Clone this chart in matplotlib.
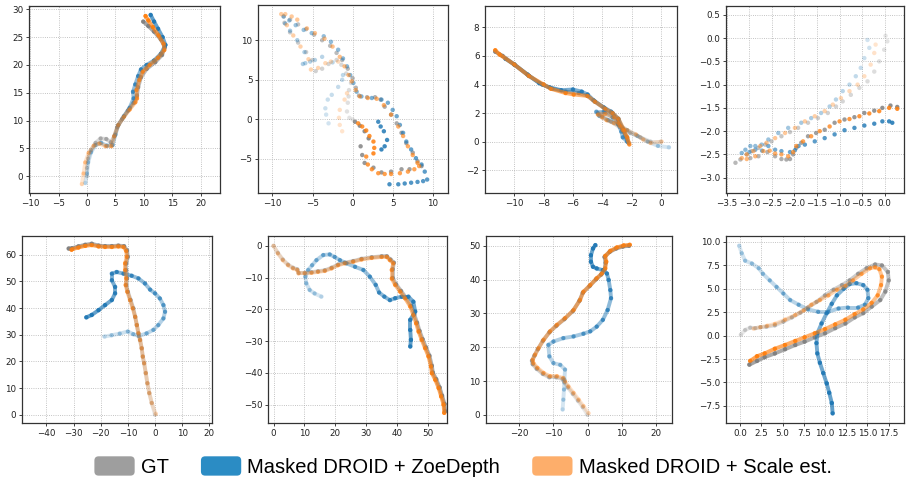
import numpy as np
import matplotlib
matplotlib.use("Agg")
import matplotlib.pyplot as plt
from matplotlib.colors import to_rgba
from matplotlib.collections import LineCollection
from matplotlib.patches import Patch, FancyBboxPatch
from matplotlib.legend_handler import HandlerPatch

# ---------------- data ----------------
series_names = ["GT", "Masked DROID + ZoeDepth", "Masked DROID + Scale est."]

# Panel 1
p1_gt = [(0,0),(0,1.5),(0.2,3.2),(0.7,4.7),(1.5,6.0),(2.4,6.8),(3.4,6.7),(4.2,6.1),(4.8,7.2),(5.3,8.8),
         (6.2,10.3),(7.2,11.8),(8.2,13.2),(8.8,14.5),(9.0,16.0),(9.5,17.8),(10.5,19.3),(12.0,20.5),(13.2,21.8),
         (13.7,23.2),(13.0,24.6),(11.8,26.0),(10.8,27.0),(9.9,27.8)]
p1_zoe = [(-0.3,-1.2),(0,0.5),(0.2,2.5),(0.7,4.3),(1.5,5.6),(2.5,6.0),(3.5,5.5),(4.5,5.6),(5.0,7.5),(5.5,9.2),
          (6.5,10.8),(7.5,12.3),(8.2,14.0),(8.1,15.2),(8.5,16.5),(9.0,18.0),(9.5,19.2),(10.5,20.0),(11.8,20.8),
          (13.0,22.0),(13.8,23.6),(13.3,25.0),(12.5,26.5),(11.8,27.8),(11.2,29.0)]
p1_scl = [(-0.9,-1.4),(-0.6,0.5),(-0.3,2.5),(0.3,4.2),(1.2,5.5),(2.2,5.9),(3.3,5.4),(4.3,5.4),(4.8,7.2),(5.5,9.2),
          (6.5,10.7),(7.5,12.0),(8.5,13.3),(8.8,14.0),(8.7,15.5),(9.2,17.3),(9.8,18.8),(11.0,20.0),(12.5,21.3),
          (13.6,22.7),(13.5,23.8),(12.6,25.3),(11.6,26.8),(10.8,28.0),(10.3,28.8)]

# Panel 2
p2_gt = [(0,0),(-0.4,0.2),(-0.7,1.0),(-0.6,2.1),(-0.5,2.9),(-0.45,3.7),(-0.2,4.6),(-0.8,5.8),(-1.4,6.9),(-2.0,7.5),
         (-3.0,7.0),(-3.8,6.4),(-4.6,6.1),(-5.0,7.5),(-5.8,8.5),(-6.8,9.7),(-7.8,11.0),(-8.5,12.2),(-8.6,13.0),
         (-7.8,12.6),(-6.8,12.0),(-5.8,11.4),(-4.8,10.7),(-3.8,10.0),(-2.8,9.3),(-2.0,8.4),(-1.3,7.5),(-0.6,6.4),
         (0.0,5.2),(0.4,4.0),(0.8,3.0),(1.8,2.8),(2.8,2.8),(3.5,2.5),(4.0,1.6),(4.8,0.6),(5.5,-0.5),(6.1,-1.7),
         (6.7,-3.0),(7.5,-4.2),(8.1,-5.3),(8.6,-5.9),(7.1,-6.3),(6.1,-6.3),(4.8,-6.6),(3.6,-6.7),(2.6,-6.1),
         (1.5,-5.5),(1.2,-4.5),(1.0,-3.4),(0.3,-0.3),(0.9,-0.8),(1.5,-1.5),(2.0,-2.4)]
p2_zoe = [(-3.0,-0.5),(-3.3,0.6),(-3.4,1.4),(-3.1,2.5),(-2.6,3.1),(-1.8,4.1),(-1.3,5.0),(-1.2,5.6),(-2.5,7.2),
          (-3.8,7.9),(-4.7,7.5),(-5.3,7.3),(-5.9,7.1),(-6.2,7.0),(-6.0,8.5),(-6.9,10.0),(-7.8,11.2),(-8.4,12.1),
          (-8.6,13.0),(-7.9,12.5),(-7.1,11.9),(-6.1,11.3),(-5.1,10.9),(-3.6,10.5),(-2.7,9.8),(-1.8,8.8),(-1.2,7.7),
          (-0.7,6.7),(-0.3,5.6),(0.1,4.6),(0.5,3.5),(1.1,2.9),(2.4,2.7),(3.6,2.5),(4.4,2.1),(5.0,1.2),(5.5,0.4),
          (5.9,-0.7),(6.3,-1.7),(6.7,-2.8),(7.3,-3.8),(7.9,-4.9),(8.6,-5.7),(9.0,-6.6),(9.3,-7.6),(8.8,-7.8),
          (8.1,-7.9),(7.3,-8.0),(6.5,-8.1),(5.7,-8.2),(4.6,-8.2),(3.2,-0.3),(3.5,-0.9),(3.9,-1.5),(4.3,-2.6),
          (4.0,-3.4),(3.6,-3.8)]
p2_scl = [(-1.3,-1.5),(-1.6,-0.7),(-1.7,0.2),(-1.6,1.2),(-1.0,2.5),(-0.7,3.3),(-1.8,7.3),(-2.7,7.3),(-3.4,7.1),
          (-4.3,6.5),(-5.2,6.3),(-5.5,7.6),(-6.5,9.2),(-7.4,10.6),(-8.2,11.9),(-8.9,13.3),(-8.4,13.3),(-7.6,13.0),
          (-6.9,12.6),(-5.7,11.5),(-4.7,10.9),(-3.5,10.2),(-2.5,9.2),(-1.6,7.9),(-1.0,6.7),(-0.5,5.6),(-0.1,4.8),
          (0.4,3.7),(0.9,2.9),(1.9,2.7),(3.0,2.6),(3.9,1.8),(4.8,0.6),(5.7,-0.9),(6.3,-2.1),(6.9,-3.4),(7.5,-4.5),
          (8.1,-5.5),(8.3,-5.9),(7.7,-6.3),(6.9,-6.6),(5.9,-6.8),(4.8,-6.9),(4.0,-6.9),(3.2,-6.8),(2.4,-6.3),
          (1.9,-5.7),(1.7,-4.7),(0.7,-0.5),(1.2,-0.9),(1.7,-1.4),(2.1,-2.1),(2.6,-2.8),(2.7,-3.6),(2.6,-4.3)]

# Panel 3
p3_gt = [(0.0,0.0),(-0.7,0.0),(-1.4,0.3),(-2.1,0.6),(-2.8,1.0),(-3.4,1.4),(-4.0,1.8),(-4.3,2.0),(-3.8,2.1),
         (-3.2,1.8),(-2.9,1.3),(-2.6,0.8),(-2.3,0.3),(-2.2,-0.1),(-2.5,0.7),(-2.9,1.5),(-3.3,2.0),(-3.8,2.3),
         (-4.5,2.8),(-5.0,3.2),(-5.6,3.4),(-6.5,3.5),(-7.4,3.7),(-8.1,4.0),(-9.0,4.6),(-10.0,5.4),(-10.8,6.0),(-11.3,6.3)]
p3_zoe = [(0.55,-0.4),(-0.2,-0.3),(-0.9,0.0),(-1.6,0.4),(-2.3,0.8),(-2.9,1.2),(-3.6,1.5),(-4.2,1.8),(-4.4,2.1),
          (-3.9,2.1),(-3.3,1.7),(-2.9,1.2),(-2.7,0.7),(-2.6,0.3),(-2.3,0.0),(-2.6,0.9),(-2.9,1.6),(-3.4,2.1),
          (-3.9,2.4),(-4.6,2.9),(-5.0,3.3),(-5.4,3.5),(-6.0,3.65),(-6.8,3.6),(-7.6,3.8),(-8.3,4.1),(-9.1,4.7),
          (-10.0,5.4),(-10.6,5.8)]
p3_scl = [(0.05,0.0),(-0.7,-0.1),(-1.2,0.15),(-1.7,0.5),(-2.3,0.8),(-2.8,1.1),(-3.2,1.3),(-3.7,1.5),(-4.0,1.7),
          (-4.3,1.9),(-3.8,1.95),(-3.2,1.7),(-2.9,1.3),(-2.6,0.8),(-2.3,0.3),(-2.15,-0.2),(-2.5,0.8),(-2.9,1.6),
          (-3.3,2.0),(-3.8,2.3),(-4.5,2.8),(-5.0,3.2),(-5.95,3.3),(-6.5,3.4),(-7.5,3.7),(-8.0,4.0),(-9.0,4.6),
          (-10.0,5.4),(-11.0,6.1),(-11.3,6.4)]

# Panel 4
p4_gt = [(0.02,0.05),(0.06,-0.07),(-0.01,-0.25),(-0.12,-0.5),(-0.23,-0.72),(-0.38,-0.93),(-0.56,-1.07),
         (-0.75,-1.22),(-0.93,-1.36),(-1.08,-1.47),(-1.26,-1.61),(-1.48,-1.72),(-1.7,-1.82),(-1.92,-1.93),
         (-2.1,-2.02),(-2.29,-2.11),(-2.51,-2.22),(-2.65,-2.29),(-2.8,-2.36),(-2.95,-2.43),(-3.06,-2.5),
         (-3.2,-2.61),(-3.31,-2.68),(-2.98,-2.58),(-2.8,-2.54),(-2.6,-2.45),(-2.43,-2.54),(-2.29,-2.6),
         (-2.18,-2.61),(-2.1,-2.6),(-2.03,-2.5),(-1.96,-2.36),(-1.85,-2.25),(-1.7,-2.11),(-1.52,-2.04),
         (-1.33,-1.97),(-1.11,-1.82),(-0.89,-1.75),(-0.67,-1.7),(-0.45,-1.61),(-0.23,-1.56),(-0.05,-1.5),
         (0.13,-1.45),(0.28,-1.48)]
p4_zoe = [(-0.38,-0.04),(-0.34,-0.21),(-0.45,-0.43),(-0.53,-0.64),(-0.64,-0.82),(-0.78,-1.0),(-0.93,-1.14),
          (-1.08,-1.32),(-1.22,-1.47),(-1.41,-1.61),(-1.63,-1.72),(-1.85,-1.82),(-2.14,-1.93),(-2.36,-2.04),
          (-2.58,-2.18),(-2.73,-2.29),(-2.87,-2.32),(-2.98,-2.32),(-3.09,-2.4),(-3.17,-2.47),(-3.0,-2.45),
          (-2.87,-2.4),(-2.72,-2.42),(-2.58,-2.32),(-2.43,-2.4),(-2.29,-2.43),(-2.1,-2.45),(-1.99,-2.41),
          (-1.91,-2.32),(-1.77,-2.29),(-1.55,-2.22),(-1.33,-2.15),(-1.11,-2.07),(-0.89,-1.98),(-0.67,-1.93),
          (-0.45,-1.88),(-0.23,-1.84),(-0.05,-1.79),(0.1,-1.79),(0.17,-1.82)]
p4_scl = [(-0.2,-0.14),(-0.23,-0.32),(-0.31,-0.57),(-0.45,-0.82),(-0.6,-1.0),(-0.78,-1.14),(-0.97,-1.29),
          (-1.15,-1.43),(-1.33,-1.57),(-1.55,-1.68),(-1.77,-1.79),(-1.99,-1.93),(-2.21,-2.04),(-2.43,-2.15),
          (-2.62,-2.25),(-2.76,-2.32),(-2.91,-2.43),(-3.06,-2.5),(-3.17,-2.58),(-3.06,-2.6),(-2.87,-2.54),
          (-2.69,-2.43),(-2.55,-2.42),(-2.43,-2.48),(-2.29,-2.5),(-2.14,-2.54),(-2.03,-2.45),(-1.96,-2.32),
          (-1.81,-2.22),(-1.63,-2.11),(-1.44,-2.0),(-1.22,-1.9),(-1.0,-1.79),(-0.78,-1.74),(-0.56,-1.68),
          (-0.34,-1.62),(-0.12,-1.57),(0.1,-1.5),(0.28,-1.52)]

# Panel 5
p5_gt = [(0,0),(-1.2,4.4),(-2.1,8.1),(-2.8,11.8),(-3.4,15.6),(-4.0,19.3),(-4.5,21.8),(-4.9,24.9),(-5.5,28.0),
         (-6.1,30.5),(-6.7,33.6),(-7.3,36.7),(-8.0,39.9),(-9.0,43.0),(-10.0,46.1),(-10.6,48.6),(-10.3,51.1),
         (-10.6,54.2),(-10.6,56.7),(-10.0,59.2),(-10.3,61.6),(-11.4,63.2),(-13.5,63.4),(-15.9,63.2),(-18.4,63.2),
         (-20.8,63.4),(-23.3,64.1),(-25.7,63.7),(-28.2,63.1),(-30.6,62.4),(-31.8,62.3)]
p5_zoe = [(-18.6,29.3),(-16.0,29.8),(-13.0,30.4),(-10.0,31.2),(-8.0,30.2),(-6.0,29.5),(-3.1,30.5),(-0.6,31.8),
          (1.2,33.6),(3.1,36.1),(3.7,38.6),(3.1,41.1),(1.8,43.6),(0,45.5),(-1.8,46.9),(-3.7,49.2),(-6.1,51.1),
          (-8.6,52.1),(-11.6,52.9),(-14.1,53.5),(-15.9,52.9),(-15.9,50.4),(-14.7,47.9),(-14.7,45.5),(-15.9,43.0),
          (-18.4,41.1),(-20.8,39.2),(-23.3,37.4),(-25.3,36.5)]
p5_scl = [(0.3,0.3),(-1.2,4.4),(-2.1,8.1),(-2.8,11.8),(-3.4,15.6),(-4.0,19.3),(-4.5,21.8),(-4.9,24.9),(-5.5,28.0),
          (-6.1,30.5),(-6.7,33.6),(-7.3,36.7),(-8.2,39.9),(-9.2,43.0),(-10.2,46.1),(-10.8,48.6),(-10.6,51.1),
          (-11.0,54.2),(-11.0,56.7),(-10.4,59.2),(-10.6,61.4),(-11.6,62.9),(-13.5,63.1),(-15.9,62.9),(-18.4,62.9),
          (-20.8,63.1),(-23.3,63.6),(-25.7,63.3),(-28.2,62.7),(-30.6,62.0),(-30.8,61.9)]

# Panel 6
p6_gt = [(0,0),(1.4,-2.2),(3.0,-4.3),(4.7,-5.9),(6.3,-6.9),(7.7,-7.4),(8.1,-8.5),(10.1,-8.5),(12.3,-8.3),
         (14.4,-8.0),(16.6,-7.7),(18.8,-6.9),(20.9,-5.9),(23.1,-5.3),(25.8,-4.8),(28.5,-4.1),(31.8,-3.6),
         (35.0,-3.3),(36.7,-3.3),(37.9,-4.3),(39.0,-5.3),(38.6,-7.4),(38.6,-10.1),(39.7,-12.1),(41.3,-14.2),
         (42.9,-16.3),(44.6,-18.9),(45.6,-21.6),(46.5,-24.2),(47.3,-26.8),(48.3,-29.4),(49.4,-32.0),(50.5,-34.6),
         (51.3,-37.8),(51.6,-39.9),(52.7,-42.0),(53.8,-44.6),(54.6,-47.2),(55.4,-49.8),(55.6,-52.1)]
p6_zoe = [(15.5,-16.0),(13.3,-15.0),(11.7,-13.9),(10.6,-11.8),(10.3,-9.7),(11.2,-7.6),(12.5,-6.1),(13.9,-4.5),
          (16.1,-2.9),(18.2,-2.7),(19.8,-3.5),(21.5,-4.5),(23.6,-5.5),(26.4,-6.6),(29.1,-7.6),(31.2,-9.7),
          (33.1,-12.3),(34.2,-14.7),(35.9,-16.0),(37.7,-17.1),(39.4,-16.5),(41.5,-16.0),(43.7,-16.0),(45.3,-17.6),
          (45.9,-20.7),(44.3,-23.3),(44.3,-26.5),(44.5,-29.6),(44.3,-31.7)]
p6_scl = [(0,0),(1.4,-2.4),(3.0,-4.5),(4.7,-6.1),(6.3,-7.1),(7.7,-7.6),(8.1,-8.7),(10.1,-8.7),(12.3,-8.5),
          (14.4,-8.2),(16.6,-7.9),(18.8,-7.1),(20.9,-6.1),(23.1,-5.5),(25.8,-5.0),(28.5,-4.3),(31.8,-3.8),
          (35.0,-3.5),(36.7,-3.5),(37.7,-4.5),(38.8,-5.5),(38.3,-7.6),(38.3,-10.3),(39.4,-12.3),(41.0,-14.4),
          (42.6,-16.5),(44.3,-19.1),(45.3,-21.8),(46.2,-24.4),(47.0,-27.0),(48.0,-29.6),(49.1,-32.2),(50.2,-34.8),
          (51.0,-38.0),(51.3,-40.1),(52.4,-42.2),(53.5,-44.8),(54.3,-47.4),(55.1,-50.0),(55.3,-52.6)]

# Panel 7
p7_gt = [(0,0),(-1.4,2.3),(-2.8,4.2),(-4.3,6.2),(-5.8,8.1),(-6.8,9.6),(-7.3,10.6),(-9.2,11.1),(-11.2,11.1),
         (-13.1,12.1),(-14.9,13.6),(-16.1,15.0),(-16.3,16.0),(-15.6,17.5),(-14.6,19.4),(-13.1,21.9),(-11.2,24.4),
         (-9.2,26.3),(-6.8,28.3),(-4.3,30.7),(-2.4,33.7),(-1.4,36.1),(0.6,38.1),(2.5,40.1),(4.0,41.5),(5.0,43.0),
         (5.3,45.0),(5.0,46.7),(6.5,48.2),(8.4,49.2),(10.4,49.8),(12.2,50.0)]
p7_zoe = [(-7.3,1.6),(-7.1,4.5),(-6.9,7.5),(-6.8,10.4),(-6.6,13.4),(-8.0,14.8),(-10.0,15.3),(-11.2,17.3),
          (-11.5,20.7),(-10.0,21.7),(-7.1,22.7),(-4.1,23.2),(-1.2,24.0),(0.8,24.7),(2.7,26.1),(4.5,28.1),(5.9,31.0),
          (6.9,34.5),(6.7,36.9),(6.2,39.9),(5.7,41.8),(4.5,42.8),(2.7,43.3),(1.6,43.8),(1.0,45.3),(1.0,47.2),
          (1.6,49.2),(2.3,50.2)]
p7_scl = [(0.3,0.5),(-1.2,2.6),(-2.6,4.5),(-4.1,6.5),(-5.6,8.4),(-6.6,9.9),(-7.1,10.9),(-9.0,11.4),(-11.0,11.4),
          (-12.9,12.4),(-14.7,13.9),(-15.9,15.3),(-16.1,16.3),(-15.4,17.8),(-14.4,19.7),(-12.9,22.2),(-11.0,24.7),
          (-9.0,26.6),(-6.6,28.6),(-4.1,31.0),(-2.2,34.0),(-1.2,36.4),(0.8,38.4),(2.7,40.4),(4.2,41.8),(5.2,43.3),
          (5.5,45.3),(5.2,47.0),(6.7,48.5),(8.6,49.5),(10.6,50.1),(12.4,50.3)]

# Panel 8
p8_gt = [(0.1,0.1),(0.6,0.6),(1.2,0.85),(1.8,0.8),(2.4,0.9),(3.1,0.95),(4.1,1.1),(5.1,1.5),(6.1,1.95),(7.1,2.45),
         (8.0,3.0),(9.0,3.6),(10.0,4.3),(11.0,4.9),(12.0,5.4),(12.9,5.9),(13.9,6.6),(14.9,7.2),(15.9,7.6),
         (16.7,7.5),(17.4,6.8),(17.5,5.9),(17.1,4.7),(16.5,3.8),(15.5,3.1),(14.5,2.4),(13.5,1.95),(12.4,1.3),
         (11.2,0.8),(10.0,0.25),(8.8,-0.18),(7.6,-0.64),(6.5,-1.0),(5.3,-1.45),(4.1,-1.9),(2.9,-2.3),(2.0,-2.7),
         (1.1,-3.1)]
p8_zoe = [(-0.1,9.6),(0.2,8.8),(0.6,8.0),(1.4,7.7),(2.2,7.2),(2.7,6.6),(3.5,5.9),(4.3,5.2),(5.1,4.5),(5.9,3.8),
          (6.9,3.3),(8.0,2.8),(9.2,2.55),(10.4,2.55),(11.6,2.9),(12.7,3.0),(13.9,3.0),(14.7,3.3),(15.1,4.0),
          (15.0,4.9),(14.5,5.4),(13.7,5.6),(12.9,5.5),(12.2,5.0),(11.4,4.3),(10.8,3.4),(10.2,2.4),(9.6,1.3),
          (9.1,0.25),(9.0,-0.8),(9.1,-1.9),(9.4,-2.9),(9.8,-4.0),(10.2,-5.1),(10.5,-6.1),(10.8,-7.2),(10.9,-8.3)]
p8_scl = [(1.6,0.75),(2.4,0.9),(3.2,1.05),(4.1,1.25),(5.3,1.7),(6.5,2.2),(7.5,2.7),(8.4,3.3),(9.4,3.8),(10.4,4.3),
          (11.4,4.9),(12.4,5.3),(13.3,5.9),(14.3,6.6),(15.3,7.2),(15.9,7.3),(16.4,7.1),(16.7,6.3),(16.6,5.4),
          (16.2,4.3),(15.5,3.5),(14.5,2.8),(13.5,2.3),(12.4,1.7),(11.2,1.2),(10.0,0.7),(8.8,0.25),(7.6,-0.18),
          (6.5,-0.57),(5.3,-1.0),(4.1,-1.4),(2.9,-1.9),(2.0,-2.2),(1.2,-2.7)]

panels = [
    (p1_gt, p1_zoe, p1_scl), (p2_gt, p2_zoe, p2_scl), (p3_gt, p3_zoe, p3_scl), (p4_gt, p4_zoe, p4_scl),
    (p5_gt, p5_zoe, p5_scl), (p6_gt, p6_zoe, p6_scl), (p7_gt, p7_zoe, p7_scl), (p8_gt, p8_zoe, p8_scl),
]

xlims = [(-10.2, 23.4), (-11.8, 11.9), (-12.0, 1.1), (-3.52, 0.43),
         (-49.0, 21.0), (-1.8, 56.2), (-29.8, 24.8), (-1.65, 19.3)]
ylims = [(-3.0, 30.6), (-9.3, 14.45), (-3.6, 9.5), (-3.33, 0.69),
         (-3.1, 67.0), (-55.8, 3.1), (-2.4, 52.9), (-9.33, 10.64)]
xticks = [np.arange(-10, 21, 5), np.arange(-10, 11, 5), np.arange(-10, 1, 2), np.arange(-3.5, 0.01, 0.5),
          np.arange(-40, 21, 10), np.arange(0, 51, 10), np.arange(-20, 21, 10), np.arange(0, 17.6, 2.5)]
yticks = [np.arange(0, 31, 5), np.arange(-5, 11, 5), np.arange(-2, 9, 2), np.arange(-3.0, 0.51, 0.5),
          np.arange(0, 61, 10), np.arange(-50, 1, 10), np.arange(0, 51, 10), np.arange(-7.5, 10.1, 2.5)]

# ---------------- style ----------------
line_colors = ["#7f7f7f", "#1f77b4", "#ff7f0e"]
legend_colors = ["#9e9e9e", "#2b8cc4", "#fdae6b"]
dense = [True, False, True, False, True, True, True, True]

W, H = 906, 480
# axes boxes in pixels: left, right, top, bottom
boxes = [(29, 220, 6, 193), (258, 448, 5, 193), (485, 677, 6, 193), (726, 904, 6, 193),
         (22, 212, 236, 423), (268, 447, 236, 423), (486, 672, 236, 423), (726, 904, 236, 423)]

fig = plt.figure(figsize=(W / 100, H / 100), dpi=100)

def draw_series(ax, pts, color, use_line):
    pts = np.asarray(pts, dtype=float)
    n = len(pts)
    alphas = np.linspace(0.2, 0.88, n)
    rgba = np.array([to_rgba(color, a) for a in alphas])
    if use_line:
        segs = np.stack([pts[:-1], pts[1:]], axis=1)
        lc = LineCollection(segs, colors=rgba[1:] * [1, 1, 1, 0.8], linewidths=2.8, capstyle="round")
        ax.add_collection(lc)
    ax.scatter(pts[:, 0], pts[:, 1], s=10, c=rgba, edgecolors="none")

for i, (series, box) in enumerate(zip(panels, boxes)):
    l, r, t, b = box
    ax = fig.add_axes([l / W, (H - b) / H, (r - l) / W, (b - t) / H])
    for pts, col in zip(series, line_colors):
        draw_series(ax, pts, col, dense[i])
    ax.set_xlim(*xlims[i])
    ax.set_ylim(*ylims[i])
    ax.set_xticks(xticks[i])
    ax.set_yticks(yticks[i])
    ax.grid(True, linestyle=":", linewidth=0.6, color="#b0b0b0")
    ax.set_axisbelow(True)
    ax.tick_params(labelsize=6.3, length=2.5, width=0.6, pad=1.5, colors="#222222")
    for sp in ax.spines.values():
        sp.set_color("#333333")
        sp.set_linewidth(0.9)


class RoundHandler(HandlerPatch):
    def create_artists(self, legend, orig_handle, xdescent, ydescent, width, height, fontsize, trans):
        p = FancyBboxPatch((-xdescent, -ydescent), width, height,
                           boxstyle=f"round,pad=0,rounding_size={height * 0.22}",
                           facecolor=orig_handle.get_facecolor(), edgecolor="none", transform=trans)
        return [p]

handles = [Patch(facecolor=c) for c in legend_colors]
fig.legend(handles, series_names, loc="center", bbox_to_anchor=(0.511, 0.028), ncol=3, frameon=False,
           prop={"family": "Liberation Sans", "size": 14.5}, handlelength=2.0, handleheight=1.1,
           handletextpad=0.3, columnspacing=1.6, borderaxespad=0,
           handler_map={Patch: RoundHandler()})

fig.savefig("out.png", dpi=100)
